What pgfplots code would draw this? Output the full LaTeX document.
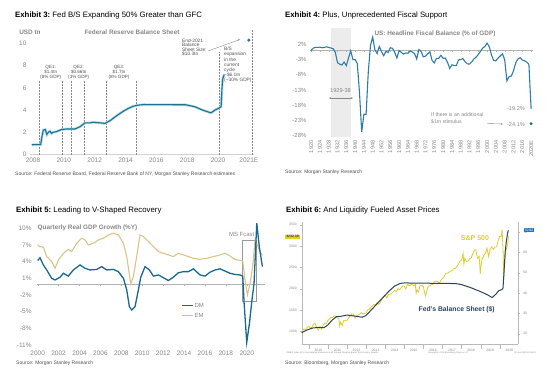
\documentclass[border=0pt]{standalone}
\usepackage{pgfplots}
\pgfplotsset{compat=1.18}
\usepackage{pgfplotstable}
\usepackage{fontspec}
\setmainfont{Liberation Sans}
\usetikzlibrary{arrows.meta}
\definecolor{teal1}{RGB}{32,112,142}
\definecolor{teallight}{RGB}{175,222,236}
\definecolor{fisc}{RGB}{45,125,170}
\definecolor{dm}{RGB}{24,104,145}
\definecolor{em}{RGB}{216,196,136}
\definecolor{spx}{RGB}{222,206,40}
\definecolor{fedbs}{RGB}{45,66,96}
\definecolor{txtgray}{RGB}{135,135,135}
\definecolor{srcgray}{RGB}{80,80,80}
\definecolor{shadegray}{RGB}{236,236,236}
\definecolor{bluebox}{RGB}{40,120,190}
\newcommand{\fs}[2]{\fontsize{#1bp}{#2bp}\selectfont}

\pgfplotstableread{
x y
2007.92 0.88
2008.5 0.9
2008.58 1.6
2008.67 2.2
2008.8 2.25
2008.9 1.8
2009.0 2.0
2009.1 2.1
2009.2 1.9
2009.3 2.0
2009.5 2.05
2009.86 2.25
2010.19 2.3
2010.72 2.3
2011.05 2.5
2011.37 2.85
2011.7 2.85
2011.9 2.9
2012.35 2.85
2012.67 2.8
2013.0 3.05
2013.43 3.5
2013.86 3.9
2014.18 4.15
2014.5 4.35
2014.83 4.45
2015.2 4.5
2017.9 4.48
2018.5 4.3
2019.0 4.0
2019.54 3.75
2019.8 4.0
2020.08 4.2
2020.2 4.3
2020.25 5.8
2020.3 6.8
2020.4 7.2
}\fedA

\pgfplotstableread{
x y
1920 0.0
1921 0.8
1922 1.0
1923 1.0
1924 1.1
1925 0.9
1926 1.0
1927 1.2
1928 1.0
1929 0.8
1930 0.6
1931 -0.6
1932 -4.0
1933 -4.5
1934 -4.8
1935 -3.8
1936 -5.0
1937 -2.5
1938 -0.1
1939 -3.0
1940 -3.0
1941 -4.3
1942 -13.9
1943 -26.8
1944 -21.0
1945 -21.0
1946 -7.0
1947 1.7
1948 4.4
1949 0.2
1950 -1.0
1951 1.3
1952 -0.4
1953 -1.7
1954 -0.3
1955 -0.7
1956 0.9
1957 0.7
1958 -0.6
1959 -2.5
1960 0.0
1961 -0.6
1962 -1.2
1963 -0.8
1964 -0.9
1965 -0.2
1966 -0.5
1967 -1.0
1968 -2.8
1969 0.3
1970 -0.3
1971 -2.1
1972 -1.9
1973 -1.1
1974 -0.4
1975 -3.3
1976 -4.1
1977 -2.6
1978 -2.6
1979 -1.6
1980 -2.6
1981 -2.5
1982 -3.9
1983 -5.9
1984 -4.7
1985 -5.0
1986 -5.0
1987 -3.1
1988 -3.0
1989 -2.7
1990 -3.7
1991 -4.4
1992 -4.5
1993 -3.8
1994 -2.8
1995 -2.2
1996 -1.3
1997 -0.3
1998 0.8
1999 1.3
2000 2.4
2001 1.2
2002 -1.5
2003 -3.3
2004 -3.4
2005 -2.5
2006 -1.8
2007 -1.1
2008 -3.1
2009 -10.0
2010 -8.6
2011 -8.4
2012 -6.7
2013 -4.1
2014 -2.8
2015 -2.4
2016 -3.1
2017 -3.4
2018 -3.8
2019 -4.6
2020 -19.2
}\fisc

\pgfplotstableread{
x y
2000.0 4.2
2000.22 4.7
2000.54 3.4
2000.86 2.5
2001.34 1.0
2001.66 0.7
2002.14 1.2
2002.46 1.9
2002.93 1.4
2003.41 2.5
2004.05 3.4
2004.53 2.8
2005.0 2.5
2005.65 2.6
2006.12 3.1
2006.6 2.5
2007.24 2.6
2007.72 2.2
2008.2 1.0
2008.52 -1.1
2008.77 -4.1
2009.0 -4.7
2009.31 -4.1
2009.63 -1.1
2009.86 1.2
2010.27 3.1
2010.69 2.5
2011.07 1.4
2011.55 1.6
2012.03 1.1
2012.5 0.6
2012.98 1.2
2013.46 2.0
2013.94 2.2
2014.42 2.2
2014.9 2.7
2015.53 1.6
2016.01 1.4
2016.49 2.1
2016.97 2.5
2017.45 2.7
2017.93 2.3
2018.4 1.9
2018.88 1.7
2019.36 1.6
2019.62 1.4
2019.75 -3.5
2020.0 -10.5
2020.26 -7.1
2020.5 -2.9
2020.7 0.1
2020.96 10.9
2021.2 6.7
2021.5 3.1
}\dmdata

\pgfplotstableread{
x y
2000.0 7.0
2000.22 6.7
2000.54 6.6
2000.86 4.9
2001.34 4.0
2001.66 2.8
2001.98 4.3
2002.46 5.5
2002.93 6.2
2003.25 5.8
2003.73 7.3
2004.21 8.2
2004.53 7.9
2004.85 7.0
2005.33 7.3
2005.81 7.9
2006.28 8.2
2006.76 8.8
2007.24 9.1
2007.72 8.8
2008.2 7.3
2008.52 4.9
2008.9 0.0
2009.15 1.3
2009.47 4.9
2009.79 8.8
2010.11 8.5
2010.59 7.6
2011.07 6.7
2011.55 5.8
2012.03 5.5
2012.5 5.2
2012.98 4.9
2013.46 5.5
2013.94 5.2
2014.42 4.9
2014.9 4.6
2015.53 4.4
2016.17 4.6
2016.81 4.9
2017.45 5.2
2017.93 5.5
2018.4 5.0
2018.88 4.4
2019.36 4.2
2019.62 4.1
2019.84 0.7
2020.06 -2.0
2020.32 0.1
2020.57 3.1
2020.8 7.9
2021.0 7.0
2021.27 5.8
2021.5 5.2
}\emdata

\pgfplotstableread{
x y
2009.63 990
2009.75 1057
2009.83 1036
2009.92 1095
2010.0 1115
2010.08 1073
2010.17 1104
2010.25 1169
2010.33 1186
2010.42 1089
2010.5 1030
2010.58 1101
2010.67 1049
2010.75 1141
2010.83 1183
2010.92 1180
2011.0 1257
2011.08 1286
2011.17 1327
2011.25 1325
2011.33 1363
2011.42 1345
2011.5 1320
2011.58 1292
2011.62 1120
2011.67 1218
2011.75 1131
2011.83 1253
2011.92 1246
2012.0 1257
2012.08 1312
2012.17 1366
2012.25 1408
2012.33 1397
2012.42 1310
2012.5 1362
2012.58 1379
2012.67 1406
2012.75 1440
2012.83 1412
2012.92 1416
2013.0 1426
2013.08 1498
2013.17 1515
2013.25 1569
2013.33 1597
2013.42 1631
2013.5 1606
2013.58 1686
2013.67 1633
2013.75 1682
2013.83 1757
2013.92 1806
2014.0 1848
2014.08 1783
2014.17 1859
2014.25 1872
2014.33 1884
2014.42 1924
2014.5 1960
2014.58 1931
2014.67 2003
2014.75 1972
2014.83 2018
2014.92 2067
2015.0 2059
2015.08 1995
2015.17 2105
2015.25 2068
2015.33 2086
2015.42 2107
2015.5 2063
2015.58 2104
2015.62 1893
2015.67 1972
2015.75 1920
2015.83 2079
2015.92 2080
2016.0 2044
2016.08 1880
2016.12 1829
2016.17 1932
2016.25 2060
2016.33 2065
2016.42 2097
2016.5 2099
2016.58 2174
2016.67 2171
2016.75 2168
2016.83 2126
2016.92 2199
2017.0 2239
2017.08 2279
2017.17 2364
2017.25 2363
2017.33 2384
2017.42 2412
2017.5 2423
2017.58 2470
2017.67 2471
2017.75 2519
2017.83 2575
2017.92 2648
2018.0 2674
2018.08 2824
2018.12 2582
2018.17 2714
2018.25 2641
2018.33 2648
2018.42 2705
2018.5 2718
2018.58 2816
2018.67 2901
2018.75 2914
2018.83 2711
2018.92 2760
2018.98 2351
2019.0 2506
2019.08 2704
2019.17 2784
2019.25 2834
2019.33 2946
2019.42 2752
2019.5 2942
2019.58 2980
2019.67 2926
2019.75 2977
2019.83 2977
2019.92 3141
2020.0 3231
2020.08 3226
2020.12 3386
2020.17 2954
2020.21 2237
2020.25 2585
2020.33 2912
2020.42 3044
2020.45 3232
}\spxdata

\pgfplotstableread{
x y
2009.63 20.5
2009.9 21.8
2010.2 22.8
2010.5 23.1
2010.8 23.0
2011.0 24.3
2011.2 26.5
2011.45 28.4
2011.7 28.6
2012.0 29.2
2012.4 28.7
2012.8 28.1
2013.0 29.0
2013.3 32.0
2013.6 35.0
2013.9 38.0
2014.2 41.0
2014.5 43.5
2014.8 44.8
2015.0 45.0
2017.7 44.7
2018.0 44.2
2018.5 42.6
2019.0 40.7
2019.35 39.2
2019.6 37.8
2019.8 39.5
2019.95 41.2
2020.12 41.8
2020.17 42.5
2020.22 50.0
2020.28 60.0
2020.35 66.0
2020.42 70.0
2020.45 70.9
}\fedbsdata

\pgfplotsset{panel/.style={scale only axis, anchor=south west, clip=false,
  /pgf/number format/assume math mode=true, /pgf/number format/1000 sep={},
  tick label style={text=txtgray}, major tick length=0pt, axis line style={draw=none}}}

\begin{document}
\begin{tikzpicture}
\path[use as bounding box] (0bp,0bp) rectangle (560bp,374bp);

% ---------------- Exhibit 3 ----------------
\begin{axis}[panel, at={(29.9bp,219.5bp)}, width=223.6bp, height=116.55bp,
  xmin=2007.8, xmax=2022.3, ymin=0, ymax=10.5,
  xtick={2008,2010,...,2022}, xticklabels={2008,2010,2012,2014,2016,2018,2020,2021E},
  ytick={0,2,...,10}, tick label style={font=\fs{6.5}{7}}]
\draw[gray!35, line width=0.4bp] (axis cs:2007.8,0) -- (axis cs:2022.3,0);
\draw[txtgray, densely dotted, line width=0.5bp] (axis cs:2008.41,0) -- (axis cs:2008.41,6.7);
\draw[txtgray, densely dotted, line width=0.5bp] (axis cs:2009.93,0) -- (axis cs:2009.93,6.7);
\draw[txtgray, densely dotted, line width=0.5bp] (axis cs:2010.47,0) -- (axis cs:2010.47,6.7);
\draw[txtgray, densely dotted, line width=0.5bp] (axis cs:2011.33,0) -- (axis cs:2011.33,6.7);
\draw[txtgray, densely dotted, line width=0.5bp] (axis cs:2012.73,0) -- (axis cs:2012.73,6.7);
\draw[txtgray, densely dotted, line width=0.5bp] (axis cs:2014.68,0) -- (axis cs:2014.68,6.7);
\draw[txtgray, densely dotted, line width=0.5bp] (axis cs:2020.06,0) -- (axis cs:2020.06,9.2);
\draw[txtgray, densely dotted, line width=0.5bp] (axis cs:2022.2,0) -- (axis cs:2022.2,11.2);
\addplot[teallight, line width=2.6bp, no markers] table {\fedA};
\addplot[teal1, line width=1.1bp, no markers] table {\fedA};
\addplot[only marks, mark=*, mark size=1.4bp, teal1] coordinates {(2022,10.3)};
\end{axis}

% ---------------- Exhibit 4 ----------------
\begin{axis}[panel, at={(310bp,236.9bp)}, width=223.3bp, height=109.44bp,
  xmin=1919.5, xmax=2021, ymin=-28.5, ymax=7.5,
  xtick={1920,1924,...,2020},
  xticklabels={1920,1924,1928,1932,1936,1940,1944,1948,1952,1956,1960,1964,1968,1972,1976,1980,1984,1988,1992,1996,2000,2004,2008,2012,2016,2020E},
  xticklabel style={rotate=90, anchor=east, font=\fs{5.6}{6}},
  ytick={-28,-23,...,2}, yticklabels={-28\%,-23\%,-18\%,-13\%,-8\%,-3\%,2\%},
  yticklabel style={font=\fs{6}{7}}]
\fill[shadegray] (axis cs:1929,-28.5) -- (axis cs:1938,-28.5) -- (axis cs:1938,7.5) -- (axis cs:1929,7.5) -- cycle;
\draw[gray!60, line width=0.4bp] (axis cs:1919.5,0) -- (axis cs:2021,0);
\pgfplotsinvokeforeach{1920,1924,...,2020}{\draw[gray!60, line width=0.4bp] (axis cs:#1,0) -- (axis cs:#1,-0.5);}
\addplot[fisc, line width=1.1bp, no markers] table {\fisc};
\addplot[only marks, mark=*, mark size=1.3bp, fisc!80!black] coordinates {(2020,-24.1)};
\end{axis}

% ---------------- Exhibit 5 ----------------
\begin{axis}[panel, at={(35.1bp,26.1bp)}, width=229.4bp, height=128.04bp,
  xmin=1999.75, xmax=2021.7, ymin=-11.5, ymax=11.5,
  xtick={2000,2002,...,2020}, ytick={-11,-8,...,10},
  xticklabels={2000,2002,2004,2006,2008,2010,2012,2014,2016,2018,2020},
  yticklabels={-11\%,-8\%,-5\%,-2\%,1\%,4\%,7\%,10\%},
  tick label style={font=\fs{6.5}{7}}]
\draw[gray!60, line width=0.4bp] (axis cs:1999.9,0) -- (axis cs:2021.7,0);
\pgfplotsinvokeforeach{2000,2002,...,2020}{\draw[gray!60, line width=0.4bp] (axis cs:#1,0) -- (axis cs:#1,-0.3);}
\draw[gray!80, line width=0.4bp] (axis cs:2019.58,7.89) -- (axis cs:2020.89,7.89) -- (axis cs:2020.89,-3.2) -- (axis cs:2019.58,-3.2) -- cycle;
\addplot[em, line width=1.1bp, no markers] table {\emdata};
\addplot[dm, line width=1.3bp, no markers] table {\dmdata};
\end{axis}

% ---------------- Exhibit 6 ----------------
\begin{axis}[panel, at={(301.7bp,29.92bp)}, width=216.6bp, height=122.48bp,
  xmin=2009.63, xmax=2020.97, ymin=700, ymax=3575,
  axis x line*=bottom, axis y line*=left,
  axis line style={draw=gray!55, line width=0.4bp},
  tick align=outside, major tick length=1.5bp, minor tick length=5bp,
  major tick style={draw=gray!55, line width=0.3bp},
  major x tick style={draw=none},
  minor x tick style={draw=gray!55, line width=0.3bp},
  xtick={2010.5,2011.5,...,2020.5}, xticklabels={2010,2011,2012,2013,2014,2015,2016,2017,2018,2019,2020},
  minor xtick={2010,2011,...,2020},
  ytick={1000,1500,...,3500},
  tick label style={font=\fs{3.4}{4}}]
\addplot[spx, line width=0.8bp, no markers] table {\spxdata};
\end{axis}
\begin{axis}[panel, at={(301.7bp,29.92bp)}, width=216.6bp, height=122.48bp,
  xmin=2009.63, xmax=2020.97, ymin=14.89, ymax=75.22,
  axis x line=none, axis y line*=right,
  axis line style={draw=gray!55, line width=0.4bp},
  tick align=outside, major tick length=1.5bp,
  major tick style={draw=gray!55, line width=0.3bp},
  ytick={20,30,...,70},
  tick label style={font=\fs{3.4}{4}}]
\addplot[fedbs, line width=1bp, no markers] table {\fedbsdata};
\end{axis}

% ---------------- annotations (pixel coordinates, y downward) ----------------
\begin{scope}[shift={(0bp,374bp)}, x=1bp, y=-1bp]
% Exhibit 3
\node[anchor=base west, inner sep=0] at (15,17.5) {\fs{7.8}{9}\textbf{Exhibit 3:}~Fed B/S Expanding 50\% Greater than GFC};
\node[text=txtgray, font=\fs{6.4}{7}\bfseries] at (30,32.3) {USD tn};
\node[text=txtgray, font=\fs{6.4}{7}\bfseries] at (132,32.3) {Federal Reserve Balance Sheet};
\node[text=srcgray, align=center, font=\fs{4.6}{5}] at (50.7,72.7) {QE1:\\\$1.4tn\\(8\% GDP)};
\node[text=srcgray, align=center, font=\fs{4.6}{5}] at (78.7,72.7) {QE2:\\\$0.66tn\\(3\% GDP)};
\node[text=srcgray, align=center, font=\fs{4.6}{5}] at (119,72.7) {QE3:\\\$1.7tn\\(8\% GDP)};
\node[text=srcgray, align=left, anchor=north west, inner sep=0, font=\fs{4.8}{4.6}] at (182,38.5) {End-2021\\Balance\\Sheet Size:\\\$10.3tn};
\node[text=srcgray, align=left, anchor=north west, inner sep=0, font=\fs{4.8}{5.2}] at (224,47) {B/S\\expansion\\in the\\current\\cycle\\\textasciitilde\$6.1tn\\(\textasciitilde30\% GDP)};
\draw[txtgray, line width=0.4bp, -{Stealth[length=2bp]}] (208,51) -- (240,39.5);
\node[anchor=base west, inner sep=0, text=srcgray, font=\fs{5}{6}] at (15,176) {Source: Federal Reserve Board, Federal Reserve Bank of NY, Morgan Stanley Research estimates};

% Exhibit 4
\node[anchor=base west, inner sep=0] at (285,17.5) {\fs{7.8}{9}\textbf{Exhibit 4:}~Plus, Unprecedented Fiscal Support};
\node[text=txtgray, font=\fs{6.4}{7}\bfseries] at (435,34) {US: Headline Fiscal Balance (\% of GDP)};
\node[text=txtgray, font=\fs{5.6}{6}] at (340.5,91) {1929-38};
\draw[txtgray, line width=0.4bp, {Stealth[length=2bp]}-{Stealth[length=2bp]}] (329,98) -- (353,98);
\node[text=txtgray, font=\fs{5.6}{6}] at (516,109) {-19.2\%};
\node[text=txtgray, font=\fs{5.6}{6}] at (516,124.7) {-24.1\%};
\node[text=txtgray, align=left, anchor=north west, inner sep=0, font=\fs{5.2}{7}] at (431,112.5) {If there is an additional\\\$1tn stimulus};
\draw[txtgray, line width=0.4bp, -{Stealth[length=2bp]}] (487,123.5) -- (503,124);
\node[anchor=base west, inner sep=0, text=srcgray, font=\fs{5}{6}] at (285,174) {Source: Morgan Stanley Research};

% Exhibit 5
\node[anchor=base west, inner sep=0] at (16,212.5) {\fs{7.8}{9}\textbf{Exhibit 5:}~Leading to V-Shaped Recovery};
\node[text=txtgray, font=\fs{6.4}{7}\bfseries] at (87.5,228.3) {Quarterly Real GDP Growth (\%Y)};
\node[text=txtgray, font=\fs{6}{7}] at (241.7,234) {MS Fcast};
\draw[dm, line width=1.3bp] (181.7,305.7) -- (193.3,305.7);
\node[anchor=west, inner sep=0.5bp, text=txtgray, font=\fs{6}{7}] at (193.8,305.7) {DM};
\draw[em, line width=1.1bp] (181.7,315.7) -- (193.3,315.7);
\node[anchor=west, inner sep=0.5bp, text=txtgray, font=\fs{6}{7}] at (193.8,315.7) {EM};
\node[anchor=base west, inner sep=0, text=srcgray, font=\fs{5}{6}] at (16,365) {Source: Morgan Stanley Research};

% Exhibit 6
\node[anchor=base west, inner sep=0] at (286,212.5) {\fs{7.8}{9}\textbf{Exhibit 6:}~And Liquidity Fueled Asset Prices};
\node[text=spx, font=\fs{7}{8}\bfseries] at (475,237.7) {S\&P 500};
\node[text=fedbs, font=\fs{6.8}{8}\bfseries] at (456.7,309.3) {Fed's Balance Sheet (\$)};
\node[fill=spx, inner sep=0.9bp, font=\fs{3.4}{4}] at (292.5,236.7) {3232.39};
\node[fill=bluebox, text=white, inner sep=0.9bp, font=\fs{3.4}{4}] at (529,230) {70.92};
\node[anchor=base west, inner sep=0, text=txtgray, font=\fs{2.2}{3}] at (286,354) {HWBIX Index (US Consolidated Statement of All Federal Reserve Banks Total Assets) Weekly};
\node[anchor=base, inner sep=0, text=txtgray, font=\fs{2.2}{3}] at (448,354) {Copyright\textcopyright\ 2020 Bloomberg Finance L.P.};
\node[anchor=base east, inner sep=0, text=txtgray, font=\fs{2.2}{3}] at (536,354) {02-Jun-2020 10:48:22};
\node[anchor=base west, inner sep=0, text=srcgray, font=\fs{5}{6}] at (285,365) {Source: Bloomberg, Morgan Stanley Research};
\end{scope}
\end{tikzpicture}
\end{document}
